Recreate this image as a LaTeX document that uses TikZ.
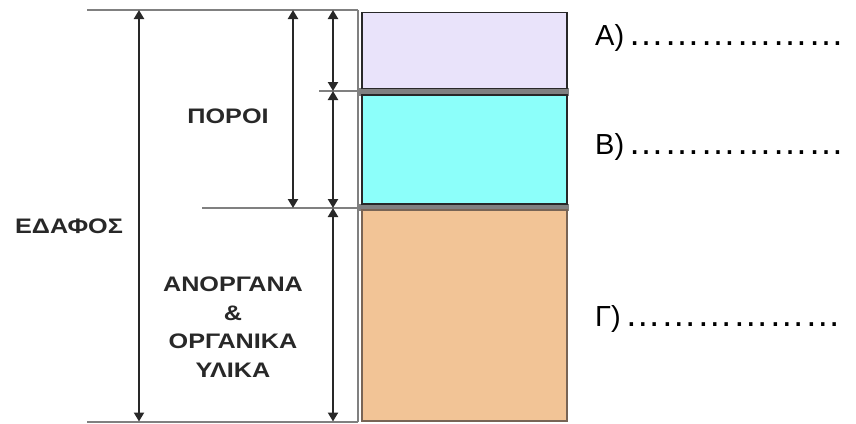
\documentclass[tikz,border=0pt]{standalone}
\usepackage{fontspec}
\setmainfont{Liberation Sans}
\usetikzlibrary{arrows.meta}
\definecolor{guide}{RGB}{128,128,128}
\definecolor{ink}{RGB}{40,40,40}
\definecolor{lav}{RGB}{233,227,250}
\definecolor{cyanbox}{RGB}{140,255,250}
\definecolor{sand}{RGB}{242,196,150}
\definecolor{sandedge}{RGB}{120,100,85}
\newcommand{\widetxt}[1]{\scalebox{1.2}[1]{#1}}
\begin{document}
\begin{tikzpicture}[x=1pt,y=-1pt,
  guideline/.style={draw=guide,line width=2pt},
  dimarrow/.style={draw=ink,line width=2.4pt,{Triangle[width=10pt,length=9pt]}-{Triangle[width=10pt,length=9pt]}},
  layer/.style={line width=1.5pt,inner sep=0pt,outer sep=0pt},
  boldlabel/.style={font=\bfseries\fontsize{21}{28.5}\selectfont, text=ink, align=center, inner sep=0pt},
  answer/.style={anchor=base west, inner sep=0pt, font=\fontsize{29}{29}\selectfont}]
\useasboundingbox (0,0) rectangle (856,423);

% guide lines
\coordinate (topL) at (87,10);
\coordinate (topR) at (358,10);
\coordinate (botL) at (87,421.5);
\coordinate (botR) at (358,421.5);
\coordinate (midAL) at (319,91);
\coordinate (midAR) at (358,91);
\coordinate (midBL) at (202,208);
\coordinate (midBR) at (358,208);
\draw[guideline] (topL) -- (topR);
\draw[guideline] (botL) -- (botR);
\draw[guideline] (midAL) -- (midAR);
\draw[guideline] (midBL) -- (midBR);
\draw[guideline] (topR) -- (botR);

% gray bands between layers
\fill[guide] (357,87.5) rectangle (568.5,95.5);
\fill[guide] (357,203.5) rectangle (568.5,210.5);

% layers
\node[layer, draw=ink, fill=lav, minimum width=205pt, minimum height=76pt] (boxA) at (464.5,50.5) {};
\node[layer, draw=ink, fill=cyanbox, minimum width=205pt, minimum height=109pt] (boxB) at (464.5,149.5) {};
\node[layer, draw=sandedge, fill=sand, minimum width=205pt, minimum height=211pt] (boxC) at (464.5,315.5) {};

% dimension arrows
\coordinate (e1) at (139,10);
\coordinate (e2) at (139,421.5);
\coordinate (p1) at (293,10);
\coordinate (p2) at (293,208);
\coordinate (s1) at (333,10);
\coordinate (s2) at (333,91);
\coordinate (s3) at (333,208);
\coordinate (s4) at (333,421.5);
\draw[dimarrow] (e1) -- (e2);
\draw[dimarrow] (p1) -- (p2);
\draw[dimarrow] (s1) -- (s2);
\draw[dimarrow] (s2) -- (s3);
\draw[dimarrow] (s3) -- (s4);

% labels
\node[boldlabel] (poroi) at (228,116) {\widetxt{ΠΟΡΟΙ}};
\node[boldlabel] (edafos) at (69,226) {\widetxt{ΕΔΑΦΟΣ}};
\node[boldlabel] (ylika) at (233,327) {\widetxt{ΑΝΟΡΓΑΝΑ}\\ \widetxt{\&}\\ \widetxt{ΟΡΓΑΝΙΚΑ}\\ \widetxt{ΥΛΙΚΑ}};

% answers
\node[answer] (ansA) at (595,45) {A)\hspace{4pt}{\fontsize{36}{36}\selectfont ………………}};
\node[answer] (ansB) at (595,154) {B)\hspace{4pt}{\fontsize{36}{36}\selectfont ………………}};
\node[answer] (ansC) at (595,326) {Γ)\hspace{4pt}{\fontsize{36}{36}\selectfont ………………}};
\end{tikzpicture}
\end{document}
